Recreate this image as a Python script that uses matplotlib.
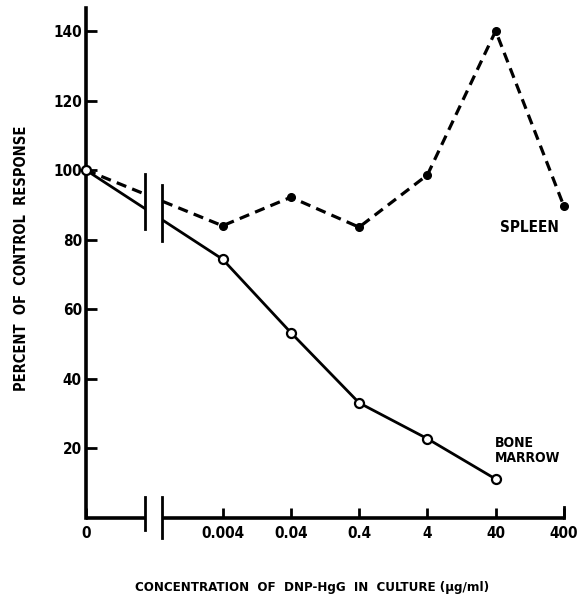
import numpy as np
import matplotlib.pyplot as plt
from matplotlib.patches import Rectangle

# positions on a decade scale: 0 = control, 2 = 0.004 ... 7 = 400
tick_pos = [0, 2, 3, 4, 5, 6, 7]
tick_labels = ['0', '0.004', '0.04', '0.4', '4', '40', '400']

marrow_x = [0, 2, 3, 4, 5, 6]
marrow_y = [100, 74.4, 53.3, 33.1, 22.8, 11.2]

spleen_x = [0, 2, 3, 4, 5, 6, 7]
spleen_y = [100, 84, 92.2, 83.6, 98.6, 140, 89.6]

FONT = dict(family=['DejaVu Sans'], weight='bold', stretch='condensed')

fig = plt.figure(figsize=(5.79, 5.97), dpi=100)
ax = fig.add_axes([0.1485, 0.1323, 0.8255, 0.8543])
ax.set_xlim(0, 7)
ax.set_ylim(0, 146.6)

# data lines
ax.plot(spleen_x, spleen_y, color='black', lw=2.3, ls=(0, (3.2, 2.0)),
        marker='o', ms=5.5, mfc='black', mec='black', zorder=3, clip_on=False)
ax.plot(marrow_x, marrow_y, color='black', lw=2.0, marker='o', ms=6.5,
        mfc='white', mec='black', mew=1.6, zorder=4, clip_on=False)

# gap in the lines for the axis break
ax.add_patch(Rectangle((0.86, 70), 0.26, 32, facecolor='white',
                       edgecolor='none', zorder=5))
ax.plot([0.86, 0.86], [83, 98.8], color='black', lw=2.0, zorder=6)
ax.plot([1.12, 1.12], [79.5, 95.7], color='black', lw=2.0, zorder=6)

# broken x axis
for side in ['top', 'right', 'bottom']:
    ax.spines[side].set_visible(False)
ax.spines['left'].set_linewidth(2.6)
ax.plot([0, 0.86], [0, 0], color='black', lw=2.6, clip_on=False, zorder=2,
        solid_capstyle='butt')
ax.plot([1.12, 7], [0, 0], color='black', lw=2.6, clip_on=False, zorder=2,
        solid_capstyle='butt')
ax.plot([0.86, 0.86], [-3.5, 6], color='black', lw=2.0, clip_on=False)
ax.plot([1.12, 1.12], [-5.7, 6], color='black', lw=2.0, clip_on=False)
ax.plot([7, 7], [0, 3.2], color='black', lw=2.0, clip_on=False)

ax.set_xticks(tick_pos)
ax.set_xticklabels(tick_labels)
ax.set_yticks([20, 40, 60, 80, 100, 120, 140])
ax.tick_params(axis='x', direction='in', length=7, width=2, pad=6)
ax.tick_params(axis='y', direction='in', length=8, width=2, pad=3)
for lab in ax.get_xticklabels() + ax.get_yticklabels():
    lab.set_fontsize(11)
    lab.set_fontfamily(FONT['family'])
    lab.set_fontweight('bold')
    lab.set_fontstretch('condensed')

ax.text(6.5, 83.6, 'SPLEEN', ha='center', va='center', fontsize=11, **FONT)
ax.text(5.99, 19.5, 'BONE\nMARROW', ha='left', va='center', fontsize=10,
        linespacing=1.1, **FONT)

fig.text(22 / 579, 1 - 258 / 597, 'PERCENT  OF  CONTROL  RESPONSE', rotation=90,
         ha='center', va='center', fontsize=10.5, **FONT)
fig.text(312 / 579, 1 - 588 / 597, 'CONCENTRATION  OF  DNP-HgG  IN  CULTURE (\u03bcg/ml)',
         ha='center', va='center', fontsize=9.5, **FONT)

fig.savefig('out.png', dpi=100)
